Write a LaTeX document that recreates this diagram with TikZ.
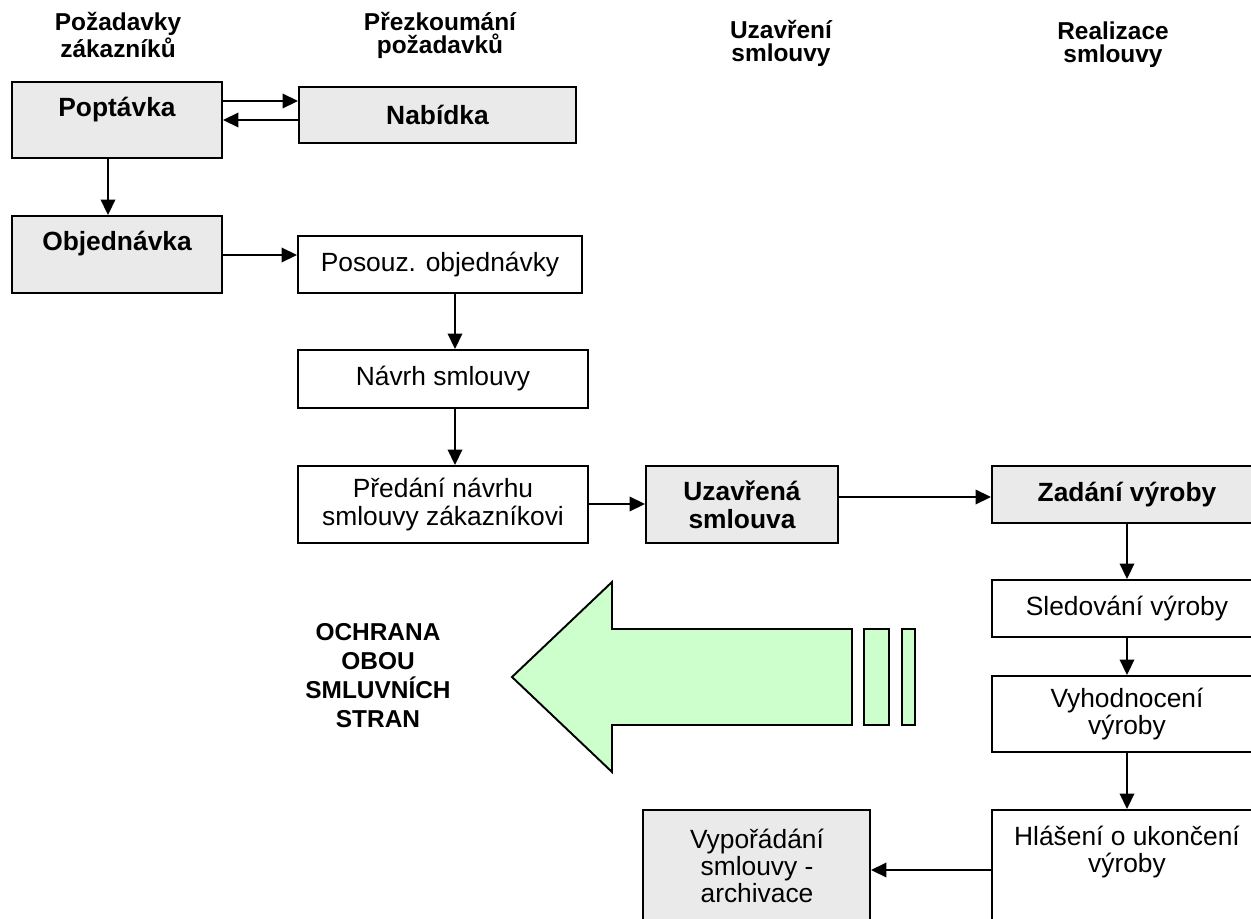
\documentclass[tikz,border=0pt]{standalone}
\usepackage{fontspec}
\setmainfont{Liberation Sans}
\usepackage{tikz}
\usetikzlibrary{arrows.meta, positioning}

\definecolor{boxgrey}{HTML}{EAEAEA}
\definecolor{arrowgreen}{HTML}{CCFFCC}

\tikzset{
    box/.style={draw, rectangle, line width=1.1pt, inner sep=0pt, align=center,
        font=\fontsize{15}{15.9}\selectfont},
    greybox/.style={box, fill=boxgrey, font=\fontsize{15}{15.9}\selectfont\bfseries},
    head/.style={align=center, font=\fontsize{13.9}{13.1}\selectfont\bfseries},
    arr/.style={-{Triangle[length=3.1mm, width=2.9mm]}, line width=1.1pt}
}

\begin{document}
\begin{tikzpicture}[x=0.2mm, y=-0.2mm]
        \clip (0,0) rectangle (1251,919);

        % Headers
        \node[head] (h1) at (118,35) {Požadavky\\zákazníků};
        \node[head] (h2) at (440,35) {Přezkoumání\\požadavků};
        \node[head] (h3) at (781,43) {Uzavření\\smlouvy};
        \node[head] (h4) at (1113,45) {Realizace\\smlouvy};

        % Nodes
        \node[greybox, minimum width=42mm, minimum height=15.2mm] (poptavka) at (117,120) {};
        \node[font=\fontsize{15}{15.9}\selectfont\bfseries] (poptavkaT) at (117,110) {Poptávka};
        \node[greybox, minimum width=55.4mm, minimum height=11.2mm] (nabidka) at (437.5,115) {Nabídka};
        \node[greybox, minimum width=42mm, minimum height=15.4mm] (objednavka) at (117,254.5) {};
        \node[font=\fontsize{15}{15.9}\selectfont\bfseries] (objednavkaT) at (117,244) {Objednávka};
        \node[box, minimum width=56.8mm, minimum height=11.4mm] (posouz) at (440,264.5) {Posouz. objednávky};
        \node[box, minimum width=58mm, minimum height=11.6mm] (navrh) at (443,379) {Návrh smlouvy};
        \node[box, minimum width=58mm, minimum height=15.4mm] (predani) at (443,504.5) {Předání návrhu\\smlouvy zákazníkovi};
        \node[greybox, minimum width=38.4mm, minimum height=15.4mm] (uzavrena) at (742,504.5) {Uzavřená\\smlouva};
        \node[greybox, minimum width=54mm, minimum height=11.4mm] (zadani) at (1127,494.5) {Zadání výroby};
        \node[box, minimum width=54mm, minimum height=11.4mm] (sledovani) at (1127,608.5) {Sledování výroby};
        \node[box, minimum width=54mm, minimum height=15.2mm] (vyhodnoceni) at (1127,714) {Vyhodnocení\\výroby};
        \node[box, minimum width=54mm, minimum height=28mm] (hlaseni) at (1127,880) {};
        \node[align=center, font=\fontsize{15}{15.9}\selectfont] (hlaseniT) at (1127,852) {Hlášení o ukončení\\výroby};
        \node[box, fill=boxgrey, minimum width=45.4mm, minimum height=28mm] (vyporadani) at (756.5,880) {};
        \node[align=center, font=\fontsize{15}{15.6}\selectfont] (vyporadaniT) at (757,866) {Vypořádání\\smlouvy -\\archivace};

        % Big arrow
        \draw[line width=1.1pt, fill=arrowgreen] (512,677) -- (612,582) -- (612,629) -- (852,629)
            -- (852,725) -- (612,725) -- (612,772) -- cycle;
        \draw[line width=1.1pt, fill=arrowgreen] (864,629) rectangle (889,725);
        \draw[line width=1.1pt, fill=arrowgreen] (902,629) rectangle (915,725);
        \node[align=center, font=\fontsize{13.9}{16.5}\selectfont\bfseries] (ochrana) at (378,676)
            {OCHRANA\\OBOU\\SMLUVNÍCH\\STRAN};

        % Arrows
        \draw[arr] (poptavka.east |- 0,101) -- (nabidka.west |- 0,101);
        \draw[arr] (nabidka.west |- 0,120) -- (poptavka.east |- 0,120);
        \draw[arr] (poptavka.south -| 108,0) -- (objednavka.north -| 108,0);
        \draw[arr] (objednavka.east |- 0,255) -- (posouz.west |- 0,255);
        \draw[arr] (posouz.south -| 455,0) -- (navrh.north -| 455,0);
        \draw[arr] (navrh.south -| 455,0) -- (predani.north -| 455,0);
        \draw[arr] (predani.east |- 0,504) -- (uzavrena.west |- 0,504);
        \draw[arr] (uzavrena.east |- 0,497) -- (zadani.west |- 0,497);
        \draw[arr] (zadani) -- (sledovani);
        \draw[arr] (sledovani) -- (vyhodnoceni);
        \draw[arr] (vyhodnoceni.south) -- (hlaseni.north);
        \draw[arr] (hlaseni.west |- 0,870) -- (vyporadani.east |- 0,870);
    \end{tikzpicture}
\end{document}
